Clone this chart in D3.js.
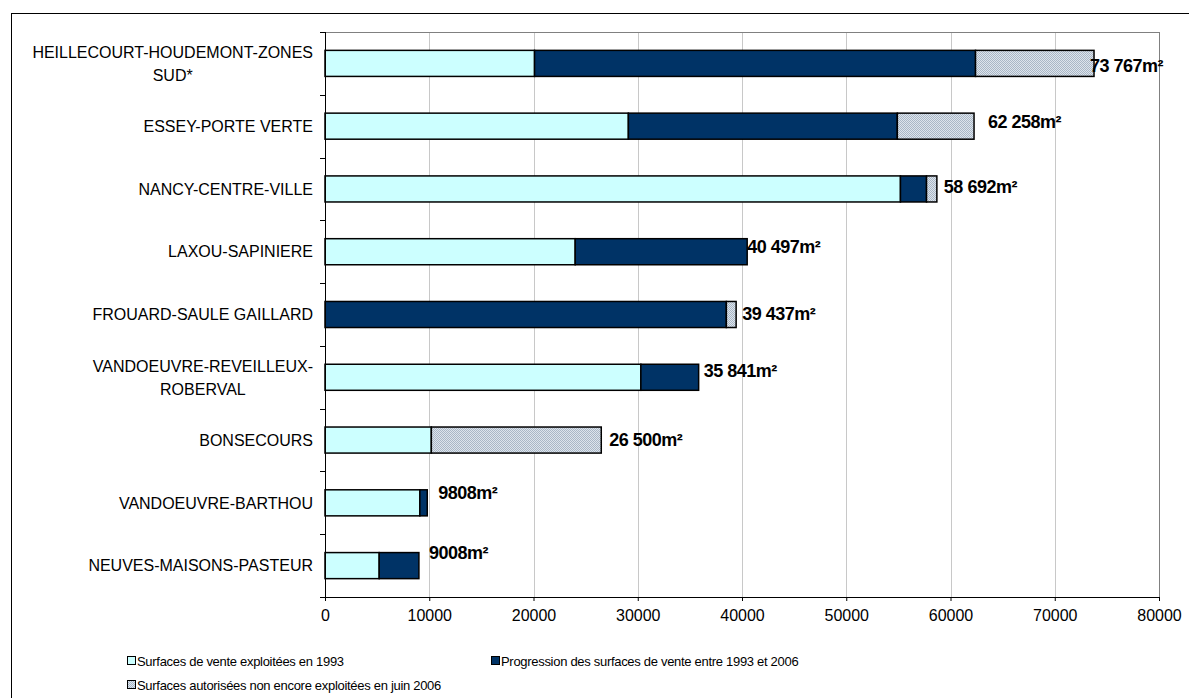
<!DOCTYPE html>
<html>
<head>
<meta charset="utf-8">
<script src="https://cdn.jsdelivr.net/npm/d3@7"></script>
<style>
  html, body { margin: 0; padding: 0; background: #fff; }
  svg { display: block; }
  text { font-family: "Liberation Sans", Arial, sans-serif; }
</style>
</head>
<body>
<svg id="chart" width="1189" height="698"></svg>
<script>
// ---- data ----
const categories = [
  "HEILLECOURT-HOUDEMONT-ZONES|SUD*",
  "ESSEY-PORTE VERTE",
  "NANCY-CENTRE-VILLE",
  "LAXOU-SAPINIERE",
  "FROUARD-SAULE GAILLARD",
  "VANDOEUVRE-REVEILLEUX-|ROBERVAL",
  "BONSECOURS",
  "VANDOEUVRE-BARTHOU",
  "NEUVES-MAISONS-PASTEUR"
];
const surfaces1993   = [20100, 29100, 55200, 24000,     0, 30300, 10200, 9100, 5200];
const progression    = [42300, 25800,  2500, 16497, 38500,  5541,     0,  708, 3808];
const autorisees     = [11367,  7358,   992,     0,   937,     0, 16300,    0,    0];
const totalLabels    = ["73 767m²", "62 258m²", "58 692m²", "40 497m²", "39 437m²", "35 841m²", "26 500m²", "9808m²", "9008m²"];
const seriesNames    = [
  "Surfaces de vente exploitées en 1993",
  "Progression des surfaces de vente entre 1993 et 2006",
  "Surfaces autorisées non encore exploitées en juin 2006"
];
const xTicks = [0, 10000, 20000, 30000, 40000, 50000, 60000, 70000, 80000];

// ---- layout (not data) ----
const labelNudge = [[-4, 2], [14, -5], [7, -2], [0, -5], [6, -1], [5, -7], [8, -1], [11, -10], [10, -13]];

const svg = d3.select("#chart");
const plot = { left: 325, right: 1159, top: 32, bottom: 597 };

const defs = svg.append("defs");
const pat = defs.append("pattern").attr("id", "hatch")
  .attr("width", 2).attr("height", 2).attr("patternUnits", "userSpaceOnUse");
pat.append("rect").attr("width", 2).attr("height", 2).attr("fill", "#dde4ec");
pat.append("rect").attr("width", 1).attr("height", 1).attr("fill", "#a9b7c6");
pat.append("rect").attr("x", 1).attr("y", 1).attr("width", 1).attr("height", 1).attr("fill", "#a9b7c6");

const colors = ["#ccffff", "#003366", "url(#hatch)"];

// outer frame
svg.append("rect").attr("x", 11.5).attr("y", 13.5).attr("width", 1300).attr("height", 1000)
  .attr("fill", "none").attr("stroke", "#000").attr("stroke-width", 1);

const x = d3.scaleLinear().domain([0, 80000]).range([plot.left, plot.right]);
const y = d3.scaleBand().domain(d3.range(categories.length))
  .range([plot.top, plot.bottom]).paddingInner(0.585).paddingOuter(0.2925);

// gridlines
svg.append("g").selectAll("line").data(xTicks.slice(1)).join("line")
  .attr("x1", d => Math.round(x(d)) + 0.5).attr("x2", d => Math.round(x(d)) + 0.5)
  .attr("y1", plot.top).attr("y2", plot.bottom)
  .attr("stroke", d => d === 80000 ? "#808080" : "#c8c8c8").attr("stroke-width", 1);
// top border
svg.append("line").attr("x1", plot.left).attr("x2", plot.right + 0.5)
  .attr("y1", plot.top + 0.5).attr("y2", plot.top + 0.5).attr("stroke", "#808080");

// stacked bars
const rows = categories.map((c, i) => ({ i, a: surfaces1993[i], b: progression[i], c: autorisees[i] }));
const stack = d3.stack().keys(["a", "b", "c"])(rows);
svg.append("g").selectAll("g").data(stack).join("g")
  .attr("fill", (d, k) => colors[k])
  .selectAll("rect").data(d => d.filter(s => s[1] - s[0] > 0)).join("rect")
  .attr("x", d => x(d[0]))
  .attr("width", d => x(d[1]) - x(d[0]))
  .attr("y", d => y(d.data.i))
  .attr("height", y.bandwidth())
  .attr("stroke", "#000").attr("stroke-width", 1.5);

// x axis
const xAxis = d3.axisBottom(x).tickValues(xTicks).tickSize(4).tickSizeOuter(0).tickFormat(d3.format("d"));
const gx = svg.append("g").attr("transform", `translate(0,${plot.bottom})`).call(xAxis);
gx.select(".domain").attr("stroke", "#000");
gx.selectAll(".tick line").attr("stroke", "#000");
gx.selectAll(".tick text").attr("font-size", 16).attr("fill", "#000").attr("dy", "1.05em")
  .attr("font-family", "'Liberation Sans', Arial, sans-serif");

// y axis (ticks at band boundaries)
const step = y.step();
svg.append("line").attr("x1", plot.left + 0.5).attr("x2", plot.left + 0.5)
  .attr("y1", plot.top).attr("y2", plot.bottom).attr("stroke", "#000");
svg.append("g").selectAll("line").data(d3.range(categories.length + 1)).join("line")
  .attr("x1", plot.left - 5).attr("x2", plot.left)
  .attr("y1", d => Math.round(plot.top + d * step) + 0.5)
  .attr("y2", d => Math.round(plot.top + d * step) + 0.5)
  .attr("stroke", "#000");

// category labels
const catG = svg.append("g");
categories.forEach((c, i) => {
  const lines = c.split("|");
  const cy = y(i) + y.bandwidth() / 2;
  const lh = 23;
  const t = catG.append("text").attr("font-size", 16).attr("fill", "#000");
  lines.forEach((ln, k) => {
    t.append("tspan").text(ln)
      .attr("y", cy + (k - (lines.length - 1) / 2) * lh).attr("dy", "0.36em");
  });
  const tsp = t.selectAll("tspan").nodes();
  const maxW = d3.max(tsp, n => n.getComputedTextLength());
  const right = 313;
  if (lines.length > 1) {
    t.attr("text-anchor", "middle");
    tsp.forEach(n => d3.select(n).attr("x", right - maxW / 2));
  } else {
    t.attr("text-anchor", "end");
    tsp.forEach(n => d3.select(n).attr("x", right));
  }
});

// total labels
svg.append("g").selectAll("text").data(rows).join("text")
  .attr("x", d => x(d.a + d.b + d.c) + labelNudge[d.i][0])
  .attr("y", d => y(d.i) + y.bandwidth() / 2 + labelNudge[d.i][1])
  .attr("dy", "0.36em")
  .attr("font-size", 18).attr("font-weight", "bold").attr("letter-spacing", -0.5)
  .attr("fill", "#000")
  .text(d => totalLabels[d.i]);

// legend
const legendPos = [[127, 661], [491, 661], [127, 685]];
const lg = svg.append("g").selectAll("g").data(seriesNames).join("g")
  .attr("transform", (d, k) => `translate(${legendPos[k][0]},${legendPos[k][1]})`);
lg.append("rect").attr("x", 0.5).attr("y", -4.5).attr("width", 8).attr("height", 8)
  .attr("fill", (d, k) => colors[k]).attr("stroke", "#000");
lg.append("text").attr("x", 10).attr("dy", "0.36em").attr("font-size", 13)
  .attr("letter-spacing", -0.3).attr("fill", "#000").text(d => d);
</script>
</body>
</html>
